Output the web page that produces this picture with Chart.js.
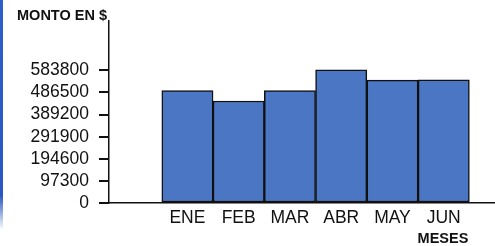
<!DOCTYPE html>
<html>
<head>
<meta charset="utf-8">
<script src="https://cdn.jsdelivr.net/npm/chart.js@4.4.0/dist/chart.umd.min.js"></script>
<style>
  html, body { margin: 0; padding: 0; background: #fff; }
  #wrap { position: relative; width: 495px; height: 246px; }
  #stripe { position: absolute; left: 0; top: 0; width: 3px; height: 230px;
            background: linear-gradient(to bottom, #2f5fc8 0%, #2a58c0 85%, rgba(60,100,200,0) 100%); }
  canvas { position: absolute; left: 0; top: 0; }
</style>
</head>
<body>
<div id="wrap">
  <canvas id="c" width="495" height="246"></canvas>
  <div id="stripe"></div>
</div>
<script>
const months = ['ENE', 'FEB', 'MAR', 'ABR', 'MAY', 'JUN'];
const amounts = [495000, 449000, 494500, 586500, 541000, 542500];
const yTickValues = [0, 97300, 194600, 291900, 389200, 486500, 583800];
const yAxisTitle = 'MONTO EN $';
const xAxisTitle = 'MESES';

const FONT = "'Liberation Sans', Arial, Helvetica, sans-serif";

const titlesPlugin = {
  id: 'axisTitles',
  afterDraw(chart) {
    const ctx = chart.ctx;
    const area = chart.chartArea;
    const xs = chart.scales.x;
    ctx.save();
    ctx.fillStyle = '#111';
    ctx.font = 'bold 14.5px ' + FONT;
    ctx.textAlign = 'right';
    ctx.textBaseline = 'alphabetic';
    ctx.fillText(yAxisTitle, area.left - 2, 20);
    ctx.fillText(xAxisTitle, xs.getPixelForValue(months.length - 0.5) - 1, 243);
    ctx.restore();
  }
};

new Chart(document.getElementById('c'), {
  type: 'bar',
  data: {
    datasets: [{
      data: months.map((m, i) => ({ x: i, y: amounts[i] })),
      backgroundColor: 'rgb(74,118,196)',
      borderColor: '#111',
      borderWidth: 1.5,
      borderSkipped: false,
      barPercentage: 1,
      categoryPercentage: 1
    }]
  },
  options: {
    responsive: false,
    animation: false,
    devicePixelRatio: 1,
    layout: { padding: { top: 20, right: 0, left: 0, bottom: 0 } },
    plugins: { legend: { display: false }, tooltip: { enabled: false }, title: { display: false } },
    scales: {
      x: {
        type: 'linear',
        offset: false,
        min: -1.53,
        max: 6.0,
        afterBuildTicks(scale) { scale.ticks = months.map((m, i) => ({ value: i })); },
        afterFit(scale) { scale.height = 43; },
        grid: { display: true, offset: false, color: 'transparent', drawTicks: false },
        border: { display: true, color: '#111', width: 1.5 },
        ticks: {
          autoSkip: false,
          maxRotation: 0,
          padding: 5,
          color: '#111',
          font: { family: FONT, size: 17.5 },
          callback: (v) => months[v] !== undefined ? months[v] : ''
        }
      },
      y: {
        min: 0,
        max: 803300,
        afterBuildTicks(scale) { scale.ticks = yTickValues.map(v => ({ value: v })); },
        afterFit(scale) { scale.width = 109; },
        grid: { display: true, drawOnChartArea: false, drawTicks: true, tickLength: 10, color: '#111', lineWidth: 2 },
        border: { display: true, color: '#111', width: 1.5 },
        ticks: {
          padding: 10,
          color: '#111',
          font: { family: FONT, size: 17.5 },
          callback: (v) => String(v)
        }
      }
    }
  },
  plugins: [titlesPlugin]
});
</script>
</body>
</html>
